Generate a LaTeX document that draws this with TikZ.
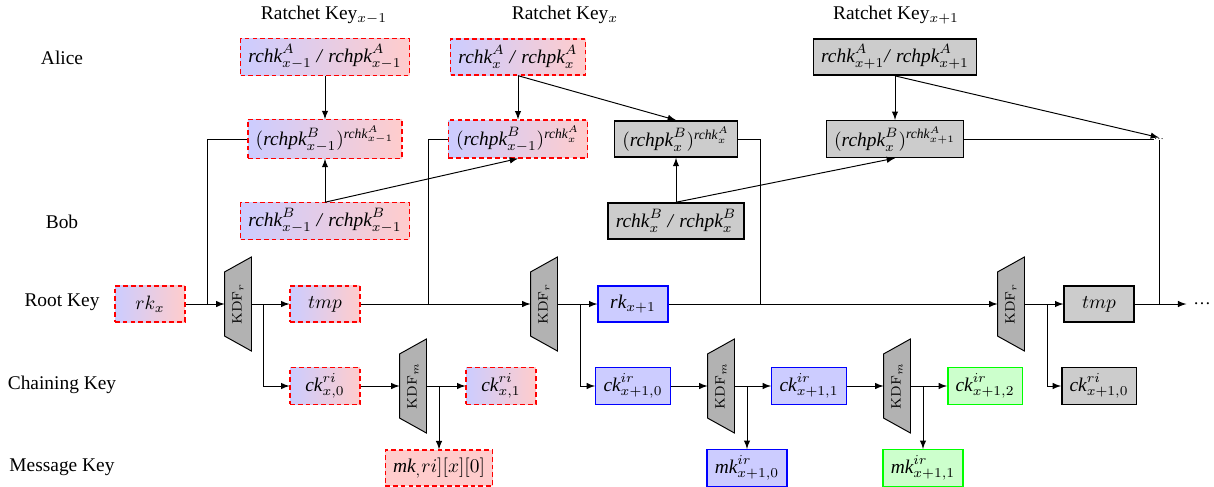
\documentclass[tikz,border=0pt]{standalone}
\usepackage{amsmath}
\usepackage[no-math]{fontspec}
\setmainfont{Liberation Serif}
\usepackage{graphicx}
\usetikzlibrary{backgrounds,calc}
\begin{document}
\begin{tikzpicture}[x=0.5155pt,y=-0.5155pt,
  box/.style={draw, line width=0.75pt, minimum width=36pt, minimum height=18.6pt, inner ysep=3pt, inner xsep=4pt},
  grad/.style={box, draw=red, line width=0.65pt, dash pattern=on 2.4pt off 1.6pt, left color=blue!20, right color=red!20},
  pinkbox/.style={box, draw=red, line width=0.65pt, dash pattern=on 2.4pt off 1.6pt, fill=red!20},
  graybox/.style={box, draw=black, fill=gray!40},
  bluebox/.style={box, draw=blue, fill=blue!20},
  greenbox/.style={box, draw=green, fill=green!20},
  kdf/.style={minimum width=13.4pt, minimum height=48pt, inner sep=0pt},
  kdfshape/.style={fill=gray!60, draw=black, line width=0.5pt},
  arr/.style={-latex},
  every path/.append style={line width=0.5pt}]
\useasboundingbox (0,0) rectangle (1214,486);

% row labels
\node (lA) at (62,58) {Alice};
\node (lB) at (62,222) {Bob};
\node (lR) at (62,302) {Root Key};
\node (lC) at (62,385) {Chaining Key};
\node (lM) at (62,467) {Message Key};
\node (h1) at (324,15) {Ratchet Key$_{x-1}$};
\node (h2) at (565,15) {Ratchet Key$_{x}$};
\node (h3) at (896,15) {Ratchet Key$_{x+1}$};

% ratchet keys
\node[grad] (A1) at (325,57) {$\textit{rchk}^A_{x-1}$ \textit{/} $\textit{rchpk}^A_{x-1}$};
\node[grad] (A2) at (518,57) {$\textit{rchk}^A_{x}$ \textit{/} $\textit{rchpk}^A_{x}$};
\node[graybox] (A3) at (895,57) {$\textit{rchk}^A_{x+1}$\textit{/} $\textit{rchpk}^A_{x+1}$};
\node[grad] (M1) at (325,139) {$(\textit{rchpk}^B_{x-1})^{\textit{rchk}^A_{x-1}}$};
\node[grad] (M2) at (518,139) {$(\textit{rchpk}^B_{x-1})^{\textit{rchk}^A_{x}}$};
\node[graybox] (M3) at (676,139) {$(\textit{rchpk}^B_{x})^{\textit{rchk}^A_{x}}$};
\node[graybox] (M4) at (895,139) {$(\textit{rchpk}^B_{x})^{\textit{rchk}^A_{x+1}}$};
\node[grad] (B1) at (325,221) {$\textit{rchk}^B_{x-1}$ \textit{/} $\textit{rchpk}^B_{x-1}$};
\node[graybox] (B2) at (676,221) {$\textit{rchk}^B_{x}$ \textit{/} $\textit{rchpk}^B_{x}$};
\node[inner sep=0pt] (dd) at (1159,139) {\tiny\textellipsis};

% root key row
\node[grad] (rkx) at (150,304) {$rk_x$};
\node[kdf] (k1) at (238,304) {\rotatebox{90}{\scriptsize$\mathrm{KDF}_r$}};
\node[grad] (t1) at (325,304) {$tmp$};
\node[kdf] (k2) at (544,304) {\rotatebox{90}{\scriptsize$\mathrm{KDF}_r$}};
\node[bluebox] (rk1) at (633,304) {$\textit{rk}_{x+1}$};
\node[kdf] (k3) at (1011,304) {\rotatebox{90}{\scriptsize$\mathrm{KDF}_r$}};
\node[graybox] (t2) at (1099,304) {$tmp$};
\node (dR) at (1202,304) {\small\textellipsis};

% chaining key row
\node[grad] (c0) at (325,386) {$\textit{ck}^{ri}_{x,0}$};
\node[kdf] (m1) at (413,386) {\rotatebox{90}{\scriptsize$\mathrm{KDF}_m$}};
\node[grad] (c1) at (501,386) {$\textit{ck}^{ri}_{x,1}$};
\node[bluebox] (d0) at (633,386) {$\textit{ck}^{ir}_{x+1,0}$};
\node[kdf] (m2) at (721,386) {\rotatebox{90}{\scriptsize$\mathrm{KDF}_m$}};
\node[bluebox] (d1) at (809,386) {$\textit{ck}^{ir}_{x+1,1}$};
\node[kdf] (m3) at (897,386) {\rotatebox{90}{\scriptsize$\mathrm{KDF}_m$}};
\node[greenbox] (d2) at (985,386) {$\textit{ck}^{ir}_{x+1,2}$};
\node[graybox] (e0) at (1099,386) {$\textit{ck}^{ri}_{x+1,0}$};

% message key row
\node[pinkbox] (n0) at (439,468) {$\textit{mk}_,ri][x][0]$};
\node[bluebox] (n1) at (747,468) {$\textit{mk}^{ir}_{x+1,0}$};
\node[greenbox] (n2) at (923,468) {$\textit{mk}^{ir}_{x+1,1}$};

% KDF trapezoids
\begin{scope}[on background layer]
\foreach \k in {k1,k2,k3,m1,m2,m3}{
  \filldraw[kdfshape] (\k.north east) -- (\k.south east) -- ($(\k.south west)+(0,-15)$) -- ($(\k.north west)+(0,15)$) -- cycle;
}
\end{scope}

% ratchet connectors
\draw[arr] (A1) -- (M1);
\draw[arr] (B1) -- (M1);
\draw[arr] (B1.north) -- (M2.south);
\draw[arr] (A2) -- (M2);
\draw[arr] (A2.south) -- (M3.north);
\draw[arr] (B2) -- (M3);
\draw[arr] (B2.north) -- (M4.south);
\draw[arr] (A3) -- (M4);
\draw[arr] (A3.south) -- (dd.north);
\draw (M4) -- (dd);
\draw (dd.south) -- (dd.south |- t2.east);

\coordinate (j1) at (207,304);
\coordinate (j2) at (428,304);
\coordinate (j3) at (760,304);
\draw (M1.west) -| (j1);
\draw (M2.west) -| (j2);
\draw (M3.east) -| (j3);

% root key connectors
\draw[arr] (rkx) -- (k1);
\draw[arr] (k1) -- (t1);
\draw[arr] (t1) -- (k2);
\draw[arr] (k2) -- (rk1);
\draw[arr] (rk1) -- (k3);
\draw[arr] (k3) -- (t2);
\draw[arr] (t2) -- (dR);
\coordinate (b1) at (263,304);
\coordinate (b2) at (580,304);
\coordinate (b3) at (1047,304);
\draw[arr] (b1) |- (c0);
\draw[arr] (b2) |- (d0);
\draw[arr] (b3) |- (e0);

% chaining connectors
\draw[arr] (c0) -- (m1);
\draw[arr] (m1) -- (c1);
\draw[arr] (m1.east -| n0.north) -- (n0);
\draw[arr] (d0) -- (m2);
\draw[arr] (m2) -- (d1);
\draw[arr] (m2.east -| n1.north) -- (n1);
\draw[arr] (d1) -- (m3);
\draw[arr] (m3) -- (d2);
\draw[arr] (m3.east -| n2.north) -- (n2);
\end{tikzpicture}
\end{document}
